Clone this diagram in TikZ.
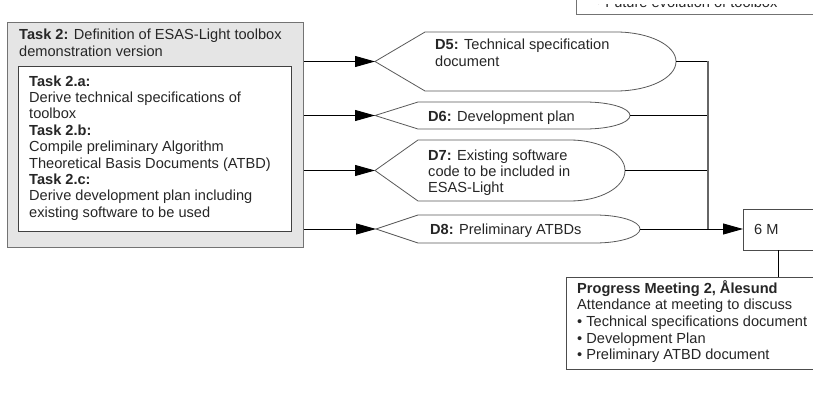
\documentclass[tikz,border=0pt]{standalone}
\usepackage{fontspec}
\setmainfont{Liberation Sans}
\usetikzlibrary{arrows.meta}
\begin{document}
\begin{tikzpicture}[x=1pt,y=-1pt,
  txt/.style={font=\fontsize{14.6}{16.4}\selectfont, inner sep=0pt, anchor=base west, align=left, text=black!85},
  frame/.style={draw=black!55, line width=1.3pt, inner sep=0pt, anchor=north west},
  dshape/.style={draw=black!65, line width=0.8pt, fill=white},
  link/.style={draw=black, line width=0.9pt},
  arr/.style={link, -{Triangle[length=20pt,width=11pt]}},
  bus/.style={draw=black!60, line width=1.2pt},
]
\useasboundingbox (0,0) rectangle (813,404);
\clip (0,0) rectangle (813,404);

% Work package box with its sub-task panel
% (multi-line texts are placed by the baseline of their last line)
\node (task) [frame, fill=black!10, minimum width=296pt, minimum height=225pt] at (7,22) {};
\node (sub) [frame, draw=black!75, line width=1pt, fill=white, minimum width=273pt, minimum height=165pt] at (18,66) {};
\node (tasktitle) [txt] at (19,56.4) {\textbf{Task 2:} Definition of ESAS-Light toolbox\\demonstration version};
\node (subtext) [txt] at (29,217.2) {\textbf{Task 2.a:}\\Derive technical specifications of\\toolbox\\\textbf{Task 2.b:}\\Compile preliminary Algorithm\\Theoretical Basis Documents (ATBD)\\\textbf{Task 2.c:}\\Derive development plan including\\existing software to be used};

% Deliverables (display shapes: pointed left end, rounded right end)
\draw[dshape] (375,61.5) coordinate (d5l) -- (425,32) -- (616,32)
  arc[start angle=90, end angle=-90, x radius=60pt, y radius=29.5pt] -- (425,91) -- cycle;
\coordinate (d5r) at (676,61.5);
\node (d5) [txt] at (435,66.4) {\textbf{D5:} Technical specification\\document};

\draw[dshape] (375,115.5) coordinate (d6l) -- (418,102) -- (585,102)
  arc[start angle=90, end angle=-90, x radius=45pt, y radius=13.5pt] -- (418,129) -- cycle;
\coordinate (d6r) at (630,115.5);
\node (d6) [txt] at (428,121) {\textbf{D6:} Development plan};

\draw[dshape] (375,170.5) coordinate (d7l) -- (418,140) -- (570,140)
  arc[start angle=90, end angle=-90, x radius=55pt, y radius=30.5pt] -- (418,201) -- cycle;
\coordinate (d7r) at (625,170.5);
\node (d7) [txt] at (428,192.8) {\textbf{D7:} Existing software\\code to be included in\\ESAS-Light};

\draw[dshape] (376,229) coordinate (d8l) -- (418,215) -- (595,215)
  arc[start angle=90, end angle=-90, x radius=45pt, y radius=14pt] -- (418,243) -- cycle;
\coordinate (d8r) at (640,229);
\node (d8) [txt] at (430,234) {\textbf{D8:} Preliminary ATBDs};

% Milestone and meeting boxes
\node (six) [frame, draw=black!70, line width=1pt, fill=white, minimum width=100pt, minimum height=41pt] at (743,209) {};
\node (sixtext) [txt] at (754,234) {6 M};
\node (pm) [frame, draw=black!70, line width=1pt, fill=white, minimum width=280pt, minimum height=92pt] at (566,277) {};
\node (pmtext) [txt, font=\fontsize{14.6}{16.7}\selectfont] at (577,359.8) {\textbf{Progress Meeting 2, Ålesund}\\Attendance at meeting to discuss\\• Technical specifications document\\• Development Plan\\• Preliminary ATBD document};

% Box continuing above the top edge; only the foot of its last line shows
\node (fut) [frame, anchor=south west, minimum width=260pt, minimum height=40pt] at (576,15) {};
\begin{scope}
  \clip (577,4.5) rectangle (813,14);
  \node (futtext) [txt] at (596,8) {• Future evolution of toolbox};
\end{scope}

% Connectors
\coordinate (bustop) at (708,61.5);
\coordinate (busbot) at (708,229);
\draw[arr] (task.east |- d5l) -- (d5l);
\draw[arr] (task.east |- d6l) -- (d6l);
\draw[arr] (task.east |- d7l) -- (d7l);
\draw[arr] (task.east |- d8l) -- (d8l);
\draw[link] (d5r) -- (bustop);
\draw[link] (d6r) -- (d6r -| bustop);
\draw[link] (d7r) -- (d7r -| bustop);
\draw[bus] (bustop) -- (busbot);
\draw[arr] (d8r) -- (six.west |- d8r);
\coordinate (drop) at (778,250);
\draw[link] (drop) -- (drop |- pm.north);
\end{tikzpicture}
\end{document}
